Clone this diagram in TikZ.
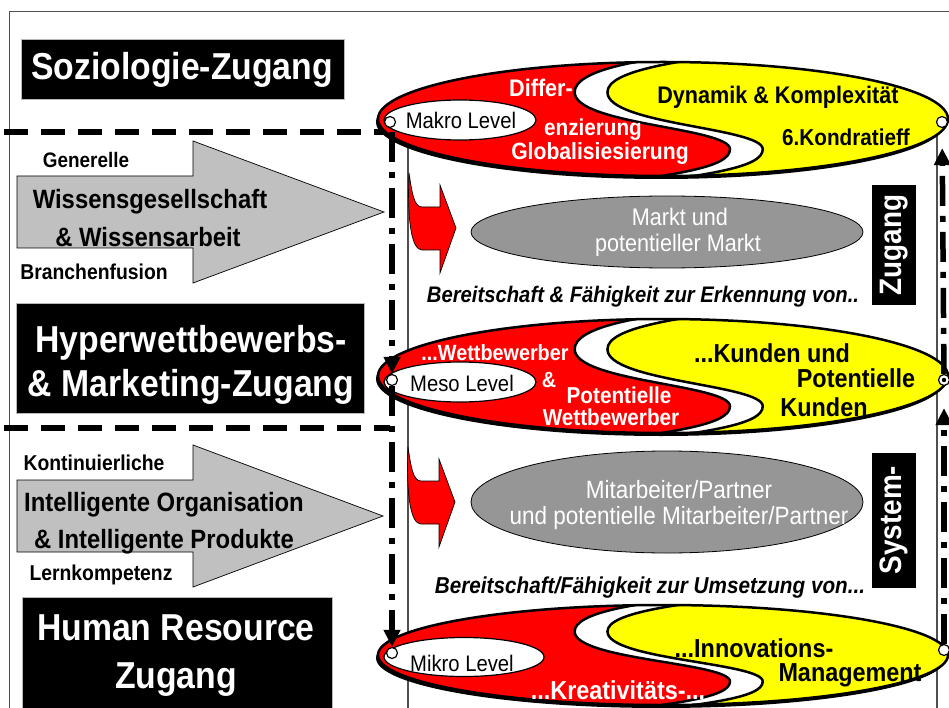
\documentclass[tikz,border=0pt]{standalone}
\usepackage{fontspec}
\setmainfont{Liberation Sans}[FakeStretch=0.9]
\usetikzlibrary{arrows.meta,shapes.geometric}

\definecolor{arrowgray}{RGB}{192,192,192}
\definecolor{ovalgray}{RGB}{150,150,150}
\definecolor{framegray}{RGB}{80,80,80}
\definecolor{wred}{RGB}{255,0,0}
\definecolor{wyellow}{RGB}{255,255,0}

\tikzset{
  lbl/.style={inner sep=0pt, font=\fontsize{#1}{#1}\selectfont\bfseries},
  lblr/.style={inner sep=0pt, font=\fontsize{#1}{#1}\selectfont},
  lbli/.style={inner sep=0pt, font=\fontsize{#1}{#1}\selectfont\bfseries\itshape},
  wlbl/.style={lbl=#1, text=white},
  titlebox/.style={fill=black, draw=gray!55, line width=0.8pt, inner sep=0pt},
  bigarrow/.style={fill=arrowgray, draw=black, line width=0.7pt},
  redarrow/.style={fill=wred, draw=black, line width=0.7pt},
  grayoval/.style={ellipse, fill=ovalgray, draw=black, line width=0.8pt, inner sep=0pt},
  levoval/.style={ellipse, fill=white, draw=black, line width=1.2pt, inner sep=0pt},
  endpt/.style={circle, fill=white, draw=black, line width=1.2pt, minimum size=11pt, inner sep=0pt},
  frameline/.style={draw=framegray, line width=1pt},
  railline/.style={draw=framegray, line width=1.2pt},
  bandline/.style={line width=5.5pt, dash pattern=on 24pt off 13pt},
  flowline/.style={line width=5.5pt, dash pattern=on 30pt off 10pt on 6pt off 10pt,
                   -{Triangle[width=16pt,length=17pt]}},
  sidebox/.style={fill=black, inner sep=0pt},
}

% red/yellow level band: outer oval split by an S-shaped white seam
\newcommand{\wavegroup}[4]{%
  \begin{scope}[shift={(#1,#2)}]
    \fill[black] (-2,3) ellipse [x radius=#3, y radius=#4];
    \fill[wyellow] (0,0) ellipse [x radius=#3, y radius=#4];
    \begin{scope}[xscale=#3, yscale=#4]
      \clip (0,0) circle [radius=1];
      \fill[white] (0.45,-1.25) .. controls (0.05,-1.05) and (-0.195,-0.85) .. (-0.195,-0.47)
        .. controls (-0.195,0.1) and (0.35,0.15) .. (0.35,0.53)
        .. controls (0.35,0.85) and (0.17,1.0) .. (-0.3,1.25)
        -- (-1.3,1.3) -- (-1.3,-1.3) -- cycle;
      \draw[line width=2.5pt] (0.45,-1.25) .. controls (0.05,-1.05) and (-0.195,-0.85) .. (-0.195,-0.47)
        .. controls (-0.195,0.1) and (0.35,0.15) .. (0.35,0.53)
        .. controls (0.35,0.85) and (0.17,1.0) .. (-0.3,1.25);
      \fill[wred] (0.2,-1.2) .. controls (-0.1,-1.05) and (-0.31,-0.85) .. (-0.31,-0.47)
        .. controls (-0.31,0.1) and (0.235,0.15) .. (0.235,0.53)
        .. controls (0.235,0.85) and (0.05,1.0) .. (-0.4,1.25)
        -- (-1.3,1.3) -- (-1.3,-1.3) -- cycle;
      \draw[line width=2.5pt] (0.2,-1.2) .. controls (-0.1,-1.05) and (-0.31,-0.85) .. (-0.31,-0.47)
        .. controls (-0.31,0.1) and (0.235,0.15) .. (0.235,0.53)
        .. controls (0.235,0.85) and (0.05,1.0) .. (-0.4,1.25);
    \end{scope}
    \draw[line width=2.5pt] (0,0) ellipse [x radius=#3, y radius=#4];
  \end{scope}}

% curved red feed arrow, placed by its tip
\newcommand{\feedarrow}[2]{%
  \begin{scope}[shift={(#1,#2)}]
    \draw[redarrow] (-47,-55) .. controls (-44,-35) and (-42,-21) .. (-34,-21)
      -- (-16,-21) -- (-16,-43) -- (0,0) -- (-16,45) -- (-16,22) -- (-34,22)
      .. controls (-44,22) and (-49,-5) .. (-47,-55) -- cycle;
  \end{scope}}

\begin{document}
\begin{tikzpicture}[x=1pt, y=-1pt]
\useasboundingbox (0,0) rectangle (949,708);
\clip (0,0) rectangle (949,708);
\fill[white] (0,0) rectangle (949,708);

% outer frame and the two thin rails of the right panel
\draw[frameline] (9,12) rectangle (955,716);
\coordinate (railLt) at (408,125);
\coordinate (railLb) at (408,716);
\coordinate (railRt) at (937,125);
\coordinate (railRb) at (937,716);
\draw[railline] (railLt) -- (railLb);
\draw[railline] (railRt) -- (railRb);

% dashed band around the competition block
\coordinate (bandAs) at (4,132);
\coordinate (lcorner) at (392,132);
\coordinate (bandBs) at (4,428);
\coordinate (bandBe) at (390,428);
\draw[bandline] (bandAs) -- (lcorner);
\draw[bandline] (bandBs) -- (bandBe);

% black title boxes
\node[titlebox, minimum width=323pt, minimum height=60pt] (sozbox) at (182.5,69) {};
\node[wlbl=37.5] (soztxt) at (182,70) {Soziologie-Zugang};
\node[titlebox, minimum width=348pt, minimum height=110pt] (hypbox) at (190,358) {};
\node[wlbl=37.5] (hyp1) at (191,343) {Hyperwettbewerbs-};
\node[wlbl=37.5] (hyp2) at (191,387) {\& Marketing-Zugang};
\node[titlebox, minimum width=310pt, minimum height=128pt] (hrbox) at (177,661) {};
\node[wlbl=37.5] (hr1) at (176,628) {Human Resource};
\node[wlbl=37.5] (hr2) at (176,680) {Zugang};

% grey driver arrows
\draw[bigarrow] (17,176) -- (193,176) -- (193,141) -- (384,212) -- (193,283) -- (193,248) -- (17,248) -- cycle;
\node[lbl=21] (gen) at (86,160) {Generelle};
\node[lbl=26.5] (wiss1) at (150,202) {Wissensgesellschaft};
\node[lbl=26.5] (wiss2) at (148,237) {\& Wissensarbeit};
\node[lbl=21.5] (branch) at (94,272) {Branchenfusion};

\draw[bigarrow] (17,480) -- (193,480) -- (193,445) -- (383,516) -- (193,587) -- (193,552) -- (17,552) -- cycle;
\node[lbl=21.5] (kont) at (94,463) {Kontinuierliche};
\node[lbl=26.5] (intel1) at (164,505) {Intelligente Organisation};
\node[lbl=26.5] (intel2) at (164,542) {\& Intelligente Produkte};
\node[lbl=21.5] (lern) at (101,575) {Lernkompetenz};

% red feed arrows
\feedarrow{456}{228}
\feedarrow{455}{502}

% grey target ovals
\node[grayoval, minimum width=392pt, minimum height=72pt] (markt) at (667,232) {};
\node[lblr=24, text=white] (markt1) at (680,217) {Markt und};
\node[lblr=24, text=white] (markt2) at (678,245) {potentieller Markt};
\node[grayoval, minimum width=392pt, minimum height=102pt] (mitarb) at (667,502) {};
\node[lblr=25, text=white] (mit1) at (679,490) {Mitarbeiter/Partner};
\node[lblr=25, text=white] (mit2) at (679,518) {und potentielle Mitarbeiter/Partner};

% italic captions
\node[lbli=22.5] (erk) at (643,297) {Bereitschaft \& Fähigkeit zur Erkennung von..};
\node[lbli=23] (ums) at (650,588) {Bereitschaft/Fähigkeit zur Umsetzung von...};

% vertical side labels
\node[sidebox, minimum width=44pt, minimum height=120pt] (zugbox) at (894,245) {};
\node[wlbl=31, rotate=90] (zugtxt) at (894,245) {Zugang};
\node[sidebox, minimum width=44pt, minimum height=135pt] (sysbox) at (894,520) {};
\node[wlbl=31, rotate=90] (systxt) at (894,520) {System-};

% the three level bands
\wavegroup{663}{119}{285}{57}
\wavegroup{663}{376}{285}{57}
\wavegroup{663}{655}{285}{50}

% macro level
\node[levoval, minimum width=152pt, minimum height=40pt] (makro) at (460,120) {};
\node[lblr=22.5] (makrotxt) at (461,120) {Makro Level};
\node[wlbl=24] (diff1) at (541,88) {Differ-};
\node[wlbl=23] (diff2) at (593,130) {enzierung};
\node[wlbl=23.5] (glob) at (600,153) {Globalisiesierung};
\node[lbl=24] (dyn) at (778,97) {Dynamik \& Komplexität};
\node[lbl=23] (kond) at (846,137) {6.Kondratieff};

% meso level
\node[levoval, minimum width=152pt, minimum height=40pt] (meso) at (460,382) {};
\node[lblr=22.5] (mesotxt) at (462,383) {Meso Level};
\node[wlbl=22] (wett1) at (495,353) {...Wettbewerber};
\node[wlbl=22] (amp) at (549,380) {\&};
\node[wlbl=23] (pot1) at (619,395) {Potentielle};
\node[wlbl=23] (wett2) at (611,417) {Wettbewerber};
\node[lbl=26] (kund1) at (772,353) {...Kunden und};
\node[lbl=26] (pot2) at (856,378) {Potentielle};
\node[lbl=26] (kund2) at (824,407) {Kunden};

% micro level
\node[levoval, minimum width=160pt, minimum height=39pt] (mikro) at (464,657) {};
\node[lblr=22.5] (mikrotxt) at (462,663) {Mikro Level};
\node[wlbl=26] (krea) at (618,690) {...Kreativitäts-...};
\node[lbl=26] (inno) at (754,648) {...Innovations-};
\node[lbl=26] (mgmt) at (850,675) {Management};

% end points of the bands
\node[endpt] (mkL) at (390,122) {};
\node[endpt] (mkR) at (942,122) {};
\node[endpt] (msL) at (392,380) {};
\node[endpt] (msR) at (944,380) {};
\node[endpt] (miL) at (392,653) {};
\node[endpt] (miR) at (944,650) {};
\fill (msR) circle (2.2);

% level connectors
\draw[flowline] (lcorner) -- (msL);
\draw[flowline] (msL) -- (miL);
\draw[flowline, shorten >=22pt] (miR) -- (msR);
\draw[flowline, shorten >=20pt] (msR) -- (mkR);
\end{tikzpicture}
\end{document}
